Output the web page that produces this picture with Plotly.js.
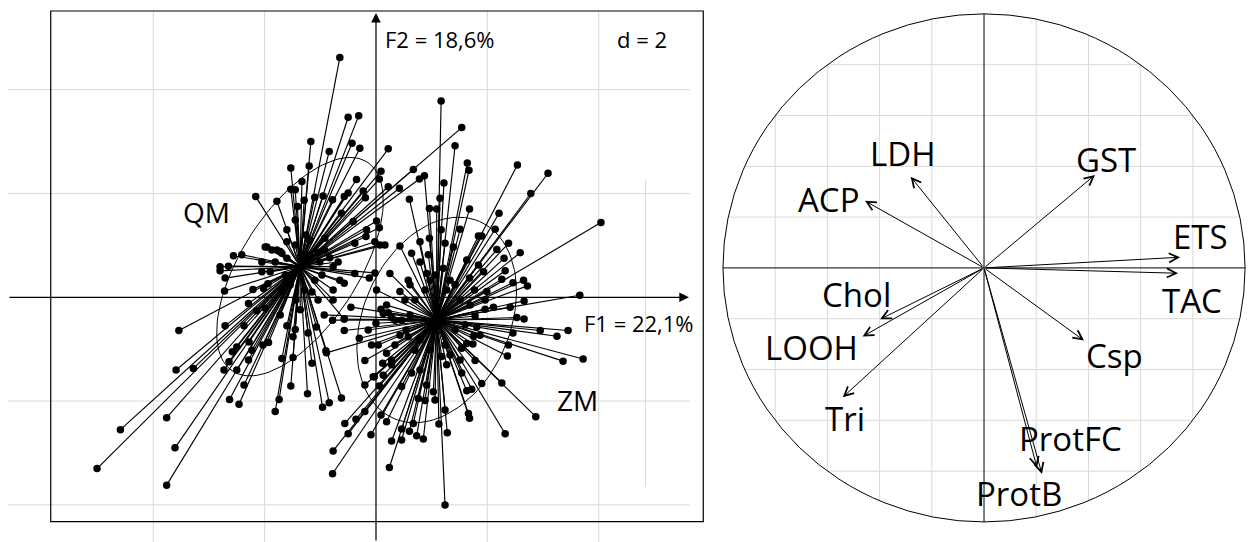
<!DOCTYPE html>
<html><head><meta charset="utf-8">
<script src="https://cdn.plot.ly/plotly-3.0.1.min.js"></script>
<style>html,body{margin:0;padding:0;background:#fff;} #chart{width:1249px;height:542px;}</style>
</head><body><div id="chart"></div>
<script>
// ---------- DATA: individuals (F1, F2 scores) ----------
const qmF1 = [-0.65,-0.50,-0.31,-1.17,-0.84,-0.43,-0.29,0.22,-1.53,-1.20,-1.33,-0.35,0.09,0.06,0.67,1.54,0.78,-2.16,-1.78,-1.53,-1.45,-1.41,-1.29,-1.10,-0.95,-0.78,-0.57,-0.50,-0.23,-0.19,0.22,0.42,0.01,0.06,-0.17,-0.41,-0.62,-0.02,0.16,-0.38,-0.18,-1.60,-1.45,-1.96,-1.78,-1.69,-2.56,-2.41,-2.80,-2.65,-2.80,-2.71,-2.72,-1.99,-1.72,-1.60,-2.05,-1.90,-2.21,-2.02,-2.29,-2.14,-1.99,-1.72,-3.54,-2.71,-2.37,-1.60,-1.45,-3.59,-3.28,-2.73,-2.64,-2.50,-2.58,-2.50,-2.29,-2.23,-2.28,-2.03,-1.93,-2.37,-2.63,-2.46,-1.69,-1.49,-1.53,-1.23,-1.74,-1.81,-1.15,-0.90,-1.22,-1.07,-1.49,-4.59,-5.01,-3.76,-3.61,-3.76,-0.96,-0.84,-0.62,-0.38,-0.12,-0.02,-0.57,-0.77,-0.57,-0.65,-0.77,-0.77,0.07,-1.19,-1.63,-1.10,-1.54,-1.01,-1.28,-1.81,-0.92,-1.19,-1.45,-1.87,-1.04,-0.83,-0.97,-1.15,-1.44,-1.69,-1.94,-2.05,-1.60,-1.26,-0.92,-0.68,-1.04,-1.36];
const qmF2 = [4.62,3.47,3.50,3.00,2.81,2.97,2.87,2.86,2.49,2.53,2.23,2.27,2.43,2.28,2.46,3.27,2.28,1.94,1.85,2.08,2.07,1.75,1.87,1.93,1.95,1.88,1.94,2.01,2.05,1.92,2.13,2.10,1.47,1.34,1.30,1.46,1.62,1.07,1.01,1.04,1.17,1.30,1.49,0.97,0.91,0.85,0.80,0.82,0.59,0.60,0.51,0.37,0.12,0.97,0.88,0.75,0.49,0.49,0.15,0.17,-0.12,-0.26,-0.21,-0.34,-0.64,-0.55,-0.55,-0.55,-0.62,-1.40,-1.37,-1.40,-1.24,-1.40,-1.05,-0.96,-1.21,-1.02,-0.86,-0.92,-0.87,-1.69,-1.97,-2.06,-1.18,-1.16,-1.71,-1.86,-1.97,-2.20,-1.27,-1.03,-0.69,-0.57,-0.76,-2.55,-3.30,-2.32,-2.90,-3.62,-2.12,-2.03,-1.94,0.46,0.37,0.47,0.27,-0.05,-0.42,0.33,0.14,0.59,1.01,0.82,0.43,0.33,0.24,0.68,0.14,0.68,0.91,1.10,1.01,0.91,0.87,0.76,0.43,0.10,-0.05,0.10,0.26,0.68,1.07,1.20,1.14,0.68,-0.05,-0.24];
const zmF1 = [1.17,1.42,1.64,1.67,2.54,3.09,2.78,4.04,0.87,0.60,0.96,1.09,1.15,1.22,1.68,2.21,2.14,2.38,1.84,1.90,1.17,0.96,0.79,0.43,1.51,1.24,1.39,2.59,2.30,2.17,2.32,2.26,2.46,2.65,2.72,2.66,2.41,2.53,2.66,2.46,2.38,2.36,3.66,3.45,3.25,2.95,3.72,3.36,2.11,1.96,1.78,1.81,1.75,1.74,1.78,-0.45,-0.57,-0.30,-0.20,-0.89,-0.57,-0.78,-0.93,-0.14,-0.08,0.09,0.19,0.01,0.13,0.00,0.64,0.94,0.25,0.43,0.58,0.91,1.21,1.63,1.84,1.93,1.68,1.77,1.27,1.99,0.22,0.28,0.46,0.54,0.58,0.04,0.19,0.28,0.12,-0.03,1.63,1.54,1.27,1.18,1.54,2.87,2.26,2.32,1.90,1.68,1.66,1.63,1.72,1.24,1.28,1.24,1.13,0.85,0.73,0.60,0.46,0.28,0.46,0.67,0.24,0.19,0.09,-0.09,-0.20,-0.36,-0.56,-0.50,-0.77,-0.78,-0.20,0.06,-0.05,0.13,0.46,0.64,0.91,0.76,1.03,0.88,1.06,0.28,0.79,0.97,1.33,0.70,1.51,1.42,0.79,0.97,1.33,0.61,0.52,0.43,0.70,1.24,1.60,1.69,1.42,0.88,0.61,0.34,1.87,1.51,0.79,0.34,1.06,1.96];
const zmF2 = [3.78,2.92,2.59,2.45,2.55,2.39,2.00,1.44,2.34,1.89,1.71,1.70,1.91,2.20,1.70,1.62,1.31,1.04,1.18,1.18,1.30,1.14,1.07,0.99,1.31,1.04,0.97,0.86,0.75,0.92,0.51,0.35,0.28,0.33,0.22,-0.07,-0.19,-0.39,-0.42,-0.69,-0.92,-1.13,0.04,-0.64,-0.75,-0.64,-1.19,-1.23,-0.19,-0.23,-0.36,-0.57,-0.75,-0.90,-1.22,-0.19,-0.64,-0.79,-1.22,-1.07,-0.42,-0.44,-0.34,-0.63,-0.92,-0.23,-0.15,0.14,-0.31,-0.50,0.85,0.82,0.46,0.11,0.33,0.46,0.56,0.72,0.62,0.49,0.37,0.14,0.14,0.11,-0.30,-0.39,-0.44,-0.63,-0.76,-0.92,-1.08,-1.21,-1.27,-1.53,-0.89,-0.98,-1.30,-1.14,-1.46,-2.30,-1.65,-2.63,-1.66,-2.33,-2.24,-1.80,-1.77,-4.00,-2.61,-2.17,-2.44,-2.73,-2.67,-2.58,-2.75,-2.77,-2.54,-2.43,-3.28,-2.40,-2.27,-2.65,-2.20,-2.35,-2.43,-2.63,-2.96,-3.40,-1.69,-1.71,-1.53,-1.50,-1.72,-1.46,-1.69,-1.95,-1.82,-1.99,-1.98,-1.30,0.68,0.33,0.33,-0.05,-0.05,-0.63,-0.82,-1.01,-1.11,-0.34,-0.05,-0.73,-1.02,-0.92,-0.53,-0.15,0.24,0.14,0.24,-0.44,-0.73,-1.21,-1.40,-0.92,0.43,-0.05];

// class centroids and inertia ellipses (F1/F2 units)
const groupNames = ["QM", "ZM"];
const groupCenterF1 = [-1.365, 1.090];
const groupCenterF2 = [0.590, -0.437];
const ellipseMajor = [2.35, 2.05];
const ellipseMinor = [1.07, 1.33];
const ellipseAngleDeg = [60, 70];

// ---------- DATA: correlation circle ----------
const varNames = ["ACP","LDH","GST","ETS","TAC","Chol","LOOH","Tri","Csp","ProtFC","ProtB"];
const varF1 = [-0.456,-0.281,0.425,0.751,0.743,-0.398,-0.465,-0.541,0.383,0.203,0.222];
const varF2 = [0.264,0.359,0.366,0.042,-0.021,-0.202,-0.270,-0.509,-0.286,-0.787,-0.811];

// texts
const axisF1Label = "F1 = 22,1%";
const axisF2Label = "F2 = 18,6%";
const gridLabel = "d = 2";
const gridStep = 2;

// ---------- layout helpers (positions, not data) ----------
const varLabelPos = [[-0.592,0.268],[-0.312,0.449],[0.467,0.425],[0.829,0.122],[0.796,-0.130],[-0.490,-0.104],[-0.660,-0.313],[-0.531,-0.594],[0.498,-0.344],[0.330,-0.673],[0.134,-0.890]];
const groupLabelPos = [[-3.044,1.644],[3.619,-1.979]];

const W = 1249, H = 542;
const leftX = [-6.663, 5.927], leftY = [-4.715, 5.632];
const box = {x0:-5.842, x1:5.878, y0:-4.324, y1:5.516};
const rightX = [-1.019, 1.015], rightY = [-1.079, 1.035];
const yDom = [0, 537/542];

const traces = [];
const groupsF1 = [qmF1, zmF1], groupsF2 = [qmF2, zmF2];

// star lines
for (let g = 0; g < 2; g++) {
  const xs = [], ys = [];
  for (let i = 0; i < groupsF1[g].length; i++) {
    xs.push(groupCenterF1[g], groupsF1[g][i], null);
    ys.push(groupCenterF2[g], groupsF2[g][i], null);
  }
  traces.push({type:'scatter', mode:'lines', x:xs, y:ys, xaxis:'x', yaxis:'y',
    line:{color:'#000', width:1.15}, hoverinfo:'skip', showlegend:false});
}
// ellipses
for (let g = 0; g < 2; g++) {
  const xs = [], ys = [];
  const th = ellipseAngleDeg[g] * Math.PI / 180;
  for (let k = 0; k <= 120; k++) {
    const t = 2 * Math.PI * k / 120;
    const a = ellipseMajor[g] * Math.cos(t), b = ellipseMinor[g] * Math.sin(t);
    xs.push(groupCenterF1[g] + a * Math.cos(th) - b * Math.sin(th));
    ys.push(groupCenterF2[g] + a * Math.sin(th) + b * Math.cos(th));
  }
  traces.push({type:'scatter', mode:'lines', x:xs, y:ys, xaxis:'x', yaxis:'y',
    line:{color:'#000', width:1}, hoverinfo:'skip', showlegend:false});
}
// points
for (let g = 0; g < 2; g++) {
  traces.push({type:'scatter', mode:'markers', x:groupsF1[g], y:groupsF2[g], xaxis:'x', yaxis:'y',
    marker:{color:'#000', size:7.5}, hoverinfo:'skip', showlegend:false});
}
// invisible trace on right axes so subplot exists
traces.push({type:'scatter', mode:'markers', x:[0], y:[0], xaxis:'x2', yaxis:'y2',
  marker:{size:1, color:'rgba(0,0,0,0)'}, hoverinfo:'skip', showlegend:false});

const shapes = [];
const gridCol = '#d9d9d9';
// left grid
for (let v = -2*gridStep; v <= 2*gridStep; v += gridStep) {
  if (v === 0) continue;
  shapes.push({type:'line', xref:'x', yref:'y', x0:-6.61, x1:5.64, y0:v, y1:v, line:{color:gridCol, width:1}, layer:'below'});
  shapes.push({type:'line', xref:'x', yref:'y', x0:v, x1:v, y0:leftY[0], y1:box.y1, line:{color:gridCol, width:1}, layer:'below'});
}
shapes.push({type:'line', xref:'x', yref:'y', x0:4.84, x1:4.84, y0:-3.64, y1:2.26, line:{color:gridCol, width:1}, layer:'below'});
shapes.push({type:'rect', xref:'x', yref:'y', x0:box.x0, x1:box.x1, y0:box.y0, y1:box.y1, line:{color:'#000', width:1.2}, layer:'below'});

// right grid clipped to circle
for (let k = -4; k <= 4; k++) {
  if (k === 0) continue;
  const v = k * 0.2, h = Math.sqrt(1 - v*v);
  shapes.push({type:'line', xref:'x2', yref:'y2', x0:v, x1:v, y0:-h, y1:h, line:{color:gridCol, width:1}, layer:'below'});
  shapes.push({type:'line', xref:'x2', yref:'y2', x0:-h, x1:h, y0:v, y1:v, line:{color:gridCol, width:1}, layer:'below'});
}
shapes.push({type:'circle', xref:'x2', yref:'y2', x0:-1, x1:1, y0:-1, y1:1, line:{color:'#000', width:1}});
shapes.push({type:'line', xref:'x2', yref:'y2', x0:-1, x1:1, y0:0, y1:0, line:{color:'#000', width:1}});
shapes.push({type:'line', xref:'x2', yref:'y2', x0:0, x1:0, y0:-1, y1:1, line:{color:'#000', width:1}});

const FONT = '"Open Sans", "Noto Sans", sans-serif';
const annotations = [];
// left axes with arrows
annotations.push({xref:'x', yref:'y', axref:'x', ayref:'y', x:5.62, y:0, ax:-6.61, ay:0, text:'',
  showarrow:true, arrowhead:2, arrowsize:1.6, arrowwidth:1.2, arrowcolor:'#000', standoff:0});
annotations.push({xref:'x', yref:'y', axref:'x', ayref:'y', x:0, y:5.48, ax:0, ay:leftY[0], text:'',
  showarrow:true, arrowhead:2, arrowsize:1.6, arrowwidth:1.2, arrowcolor:'#000', standoff:0});
annotations.push({xref:'x', yref:'y', x:1.149, y:4.977, text:axisF2Label, showarrow:false, font:{family:FONT, size:22, color:'#000'}});
annotations.push({xref:'x', yref:'y', x:4.777, y:4.983, text:gridLabel, showarrow:false, font:{family:FONT, size:22, color:'#000'}});
annotations.push({xref:'x', yref:'y', x:4.723, y:-0.495, text:axisF1Label, showarrow:false, font:{family:FONT, size:22, color:'#000'}});
for (let g = 0; g < 2; g++) {
  annotations.push({xref:'x', yref:'y', x:groupLabelPos[g][0], y:groupLabelPos[g][1], text:groupNames[g], showarrow:false, font:{family:FONT, size:28, color:'#000'}});
}
// variable arrows and labels
for (let i = 0; i < varNames.length; i++) {
  annotations.push({xref:'x2', yref:'y2', axref:'x2', ayref:'y2', x:varF1[i], y:varF2[i], ax:0, ay:0, text:'',
    showarrow:true, arrowhead:5, arrowsize:1.8, arrowwidth:1, arrowcolor:'#000', standoff:0});
  annotations.push({xref:'x2', yref:'y2', x:varLabelPos[i][0], y:varLabelPos[i][1], text:varNames[i], showarrow:false,
    font:{family:FONT, size:33, color:'#000'}});
}

const axCommon = {showgrid:false, zeroline:false, showticklabels:false, showline:false, ticks:'', fixedrange:true};
const layout = {
  width:W, height:H, margin:{l:0, r:0, t:0, b:0}, paper_bgcolor:'#fff', plot_bgcolor:'rgba(0,0,0,0)',
  showlegend:false, hovermode:false,
  xaxis:Object.assign({}, axCommon, {domain:[5/W, 706/W], range:leftX}),
  yaxis:Object.assign({}, axCommon, {domain:yDom, range:leftY}),
  xaxis2:Object.assign({}, axCommon, {domain:[718/W, 1], range:rightX, anchor:'y2'}),
  yaxis2:Object.assign({}, axCommon, {domain:yDom, range:rightY, anchor:'x2'}),
  shapes:shapes, annotations:annotations
};
Plotly.newPlot('chart', traces, layout, {staticPlot:true, displayModeBar:false});
</script></body></html>
